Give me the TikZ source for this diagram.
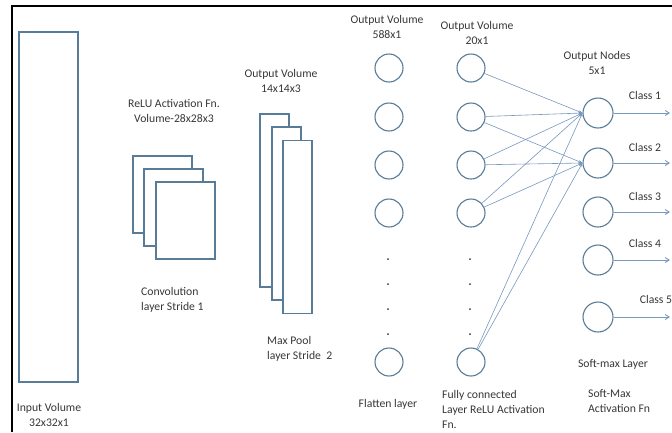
\documentclass[tikz,border=0pt]{standalone}
\usepackage{fontspec}
\setmainfont{Carlito}
\usepackage{xcolor}
\usetikzlibrary{arrows.meta, positioning}
\definecolor{edgeblue}{RGB}{88,124,152}
\definecolor{wireblue}{RGB}{120,152,190}
\definecolor{txtgrey}{RGB}{55,55,55}

\begin{document}
\begin{tikzpicture}[x=1pt, y=-1pt,
  layer/.style={rectangle, draw=edgeblue, line width=1.3pt, fill=white, inner sep=0pt},
  neuron/.style={circle, draw=edgeblue, line width=1.1pt, fill=white, minimum size=28pt, inner sep=0pt},
  outneuron/.style={neuron, minimum size=30pt},
  lbl/.style={font=\fontsize{11.7}{15}\selectfont, text=txtgrey, inner sep=0pt},
  wire/.style={draw=wireblue, line width=0.6pt, -{Stealth[length=4pt, width=3pt]}},
  outarrow/.style={draw=wireblue, line width=0.9pt, -{Straight Barb[length=4pt, width=5pt]}}
]
\useasboundingbox (0,0) rectangle (672,432);
\draw[line width=2pt] (12,432) -- (12,6) -- (672,6);

% input volume
\node[layer, minimum width=59pt, minimum height=350pt] (input) at (48.5,207) {};
\node[lbl, align=center] (inputlbl) at (49,415) {Input Volume\\32x32x1};

% convolution layer
\node[layer, minimum width=59pt, minimum height=77pt] (conv1) at (162.5,194.5) {};
\node[layer, minimum width=59pt, minimum height=77pt] (conv2) at (173.5,207.5) {};
\node[layer, minimum width=59pt, minimum height=77pt] (conv3) at (185.5,220.5) {};
\node[lbl, align=center] (convtop) at (174,111) {ReLU Activation Fn.\\Volume-28x28x3};
\node[lbl, align=left, anchor=west] (convlbl) at (141,299.5) {Convolution\\layer Stride 1};

% max pool layer
\node[layer, minimum width=29pt, minimum height=173pt] (pool1) at (274.5,200.5) {};
\node[layer, minimum width=29pt, minimum height=173pt] (pool2) at (286.5,213.5) {};
\node[layer, minimum width=29pt, minimum height=173pt] (pool3) at (297.5,227) {};
\node[lbl, align=center] (pooltop) at (281,80.5) {Output Volume\\14x14x3};
\node[lbl, align=left, anchor=west] (poollbl) at (267,348.5) {Max Pool\\layer Stride~~2};

% flatten and fully connected columns
\foreach \i/\y in {1/68, 2/117, 3/165, 4/213, 5/362} {
  \node[neuron] (f\i) at (389,\y) {};
  \node[neuron] (h\i) at (471,\y) {};
}
\foreach \y in {259, 284, 309, 334} {
  \fill[txtgrey] (388,\y) circle (1pt);
  \fill[txtgrey] (470,\y) circle (1pt);
}
\node[lbl, align=center] (flattop) at (387,27) {Output Volume\\588x1};
\node[lbl] (flatlbl) at (388,404) {Flatten layer};
\node[lbl, align=center] (fctop) at (477,32.5) {Output Volume\\20x1};
\node[lbl, align=left, anchor=west] (fclbl) at (442,409) {Fully connected\\Layer ReLU Activation\\Fn.};

% soft-max layer
\foreach \i/\y in {1/113, 2/163, 3/212, 4/260, 5/317} {
  \node[outneuron] (o\i) at (598,\y) {};
  \coordinate (e\i) at (670,\y);
  \draw[outarrow] (o\i.east) -- (e\i);
}
\foreach \i/\y in {1/95, 2/147, 3/196, 4/243} {
  \node[lbl] (c\i) at (645,\y) {Class \i};
}
\node[lbl] (c5) at (656,299) {Class 5};
\node[lbl, align=center] (outtop) at (597,63) {Output Nodes\\5x1};
\node[lbl] (smlbl) at (613,364) {Soft-max Layer};
\node[lbl, align=left, anchor=west] (smfn) at (588,401.5) {Soft-Max\\Activation Fn};

% connections
\draw[wire] (h1) -- (o1.west);
\foreach \i in {2,3,4,5} {
  \draw[wire] (h\i) -- (o1.west);
  \draw[wire] (h\i) -- (o2.west);
}
\end{tikzpicture}
\end{document}
